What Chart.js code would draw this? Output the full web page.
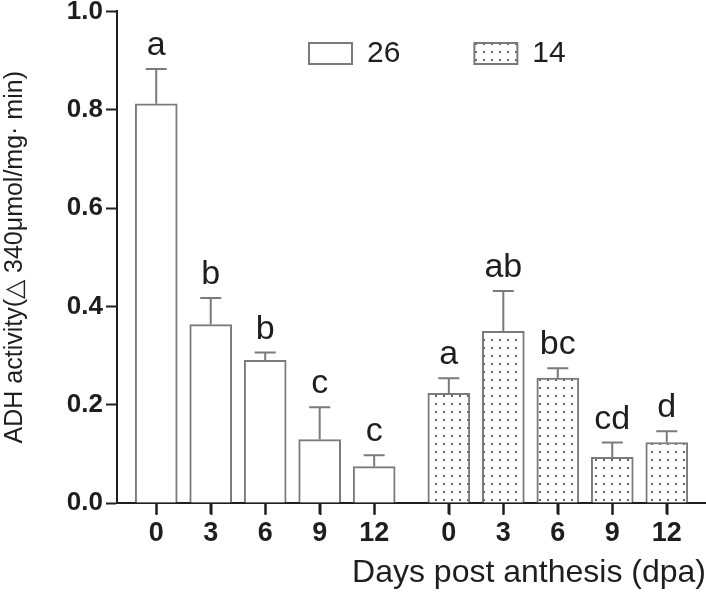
<!DOCTYPE html>
<html>
<head>
    <title>ADH</title>
    <meta charset="utf-8" />
    <script src="https://cdn.jsdelivr.net/npm/chart.js@4.4.1/dist/chart.umd.min.js"></script>
    <style>
      body { margin: 0; background: #fff; }
    </style>
</head>
<body>
  <div style="width: 706px; height: 594px">
    <canvas id="joonis"></canvas>
  </div>
<script>
   // andmed pildilt
   const paevad = ['0', '3', '6', '9', '12'];
   const ryhmad = ['26', '14'];
   const kesk26 = [0.812, 0.363, 0.290, 0.129, 0.074];
   const viga26 = [0.071, 0.054, 0.016, 0.066, 0.023];
   const kesk14 = [0.223, 0.349, 0.254, 0.093, 0.123];
   const viga14 = [0.031, 0.082, 0.020, 0.030, 0.023];
   const tahed26 = ['a', 'b', 'b', 'c', 'c'];
   const tahed14 = ['a', 'ab', 'bc', 'cd', 'd'];
   const yTicks = [0, 0.2, 0.4, 0.6, 0.8, 1.0];

   const vahe = 5.37;   // teise grupi algus x-teljel
   const font = 'Liberation Sans, Arial, sans-serif';
   const hall = '#7a7a7a';
   const must = '#1e1e1e';

   function tapid() {
     const c = document.createElement('canvas');
     c.width = 8; c.height = 8;
     const g = c.getContext('2d');
     g.fillStyle = '#fff';
     g.fillRect(0, 0, 8, 8);
     g.fillStyle = '#666';
     g.fillRect(3, 3, 2, 2);
     return document.getElementById('joonis').getContext('2d').createPattern(c, 'repeat');
   }

   const xKohad = paevad.map((p, i) => i).concat(paevad.map((p, i) => i + vahe));

   const vead = {
     id: 'vead',
     afterDatasetsDraw(chart) {
       const ctx = chart.ctx;
       const y = chart.scales.y;
       const kesk = [kesk26, kesk14];
       const vv = [viga26, viga14];
       const tt = [tahed26, tahed14];
       ctx.save();
       for (let d = 0; d < 2; d++) {
         const meta = chart.getDatasetMeta(d);
         meta.data.forEach((bar, i) => {
           const yTop = y.getPixelForValue(kesk[d][i] + vv[d][i]);
           ctx.strokeStyle = hall;
           ctx.lineWidth = 2;
           ctx.beginPath();
           ctx.moveTo(bar.x, bar.y);
           ctx.lineTo(bar.x, yTop);
           ctx.moveTo(bar.x - 10.5, yTop);
           ctx.lineTo(bar.x + 10.5, yTop);
           ctx.stroke();
           ctx.fillStyle = must;
           ctx.font = '34px ' + font;
           ctx.textAlign = 'center';
           ctx.textBaseline = 'alphabetic';
           ctx.fillText(tt[d][i], bar.x, yTop - 14);
         });
       }
       ctx.restore();
     },
     afterDraw(chart) {
       // x-telje kriipsud
       const ctx = chart.ctx;
       const x = chart.scales.x;
       const y0 = chart.chartArea.bottom;
       ctx.save();
       ctx.strokeStyle = must;
       ctx.lineWidth = 2;
       ctx.beginPath();
       xKohad.forEach(v => {
         const px = Math.round(x.getPixelForValue(v)) + 0.5;
         ctx.moveTo(px, y0);
         ctx.lineTo(px, y0 + 12);
       });
       ctx.stroke();
       ctx.restore();
     }
   };

   // legend joonise sisse
   const legendKoht = {
     id: 'legendKoht',
     afterLayout(chart) {
       const lg = chart.legend;
       const pad = lg.options.labels.padding;
       lg.left = 309 - pad;
       lg.right = 706;
       lg.top = 43 - 4.5 - pad;
       lg.bottom = 90;
     }
   };

   const pattern = tapid();

   const joonis = new Chart(document.getElementById('joonis'), {
     type: 'bar',
     data: {
       datasets: [
         {
           label: ryhmad[0],
           data: kesk26.map((v, i) => ({x: xKohad[i], y: v})),
           backgroundColor: '#fff',
           borderColor: hall,
           borderWidth: 2,
           barThickness: 42,
           grouped: false
         },
         {
           label: ryhmad[1],
           data: kesk14.map((v, i) => ({x: xKohad[i + 5], y: v})),
           backgroundColor: pattern,
           borderColor: hall,
           borderWidth: 2,
           barThickness: 42,
           grouped: false
         }
       ]
     },
     options: {
       responsive: true,
       maintainAspectRatio: false,
       animation: false,
       layout: { padding: { top: 10.4, right: 0, left: 0, bottom: 0 } },
       plugins: {
         tooltip: { enabled: false },
         legend: {
           position: 'top',
           align: 'start',
           maxHeight: 1,
           labels: {
             boxWidth: 43,
             boxHeight: 21,
             padding: 74,
             color: must,
             font: { family: font, size: 30 }
           }
         }
       },
       scales: {
         x: {
           type: 'linear',
           min: -0.72,
           max: 10.09,
           offset: false,
           afterBuildTicks(scale) {
             scale.ticks = xKohad.map(v => ({value: v}));
           },
           afterFit(scale) {
             scale.height = 91;
           },
           ticks: {
             callback: (v, i) => paevad[i % 5],
             color: must,
             padding: 3,
             maxRotation: 0,
             autoSkip: false,
             font: { family: font, size: 27, weight: 'bold' }
           },
           grid: { offset: false, drawOnChartArea: false, drawTicks: true, tickLength: 11, tickWidth: 2, tickColor: must },
           border: { display: true, color: must, width: 2 },
           title: {
             display: true,
             text: 'Days post anthesis (dpa)',
             align: 'end',
             color: must,
             padding: { top: 2, bottom: 2 },
             font: { family: font, size: 32 }
           }
         },
         y: {
           min: 0,
           max: 1,
           afterBuildTicks(scale) {
             scale.ticks = yTicks.map(v => ({value: v}));
           },
           afterFit(scale) {
             scale.width = 117;
             scale.paddingTop = 0;
             scale.paddingBottom = 0;
           },
           ticks: {
             callback: v => v.toFixed(1),
             color: must,
             padding: 3,
             font: { family: font, size: 26, weight: 'bold' }
           },
           grid: { drawOnChartArea: false, drawTicks: true, tickLength: 11, tickWidth: 2, tickColor: must },
           border: { display: true, color: must, width: 2 },
           title: {
             display: true,
             text: 'ADH activity(△ 340μmol/mg· min)',
             color: must,
             padding: { top: 0, bottom: 0 },
             font: { family: font, size: 25 }
           }
         }
       }
     },
     plugins: [legendKoht, vead]
   });
</script>
</body>
</html>
